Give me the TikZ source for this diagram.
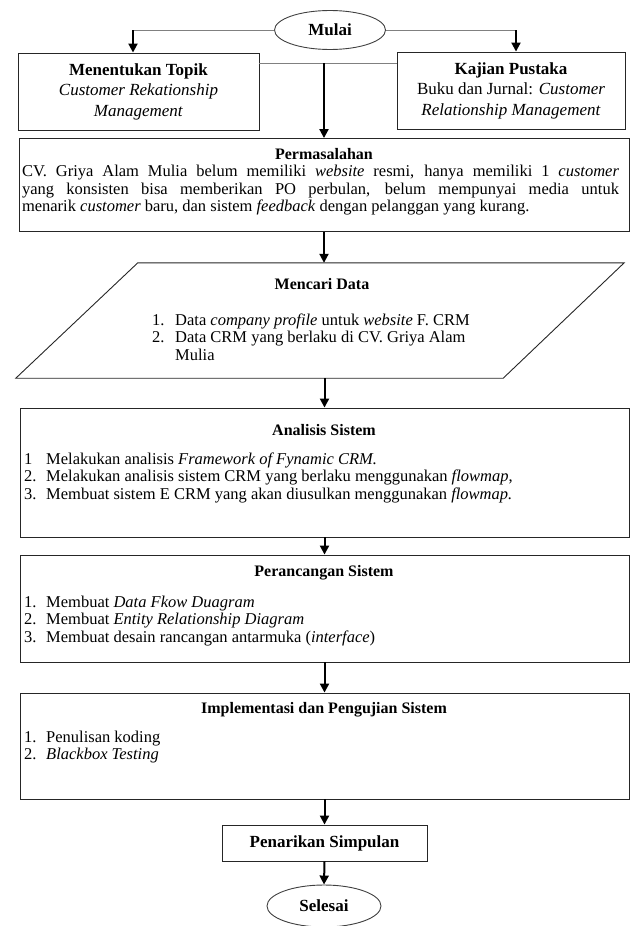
\documentclass[tikz,border=0pt]{standalone}
\usepackage{fontspec}
\setmainfont{Liberation Serif}
\usetikzlibrary{shapes.geometric,arrows.meta,positioning}

\newcommand{\bodyfont}{\fontsize{16.5}{17.5}\selectfont}
\newcommand{\headfont}{\fontsize{17}{20.5}\selectfont}

\begin{document}
\begin{tikzpicture}[x=1pt, y=-1pt, font=\bodyfont,
    box/.style={rectangle, draw=black!85, line width=0.9pt, inner sep=0pt},
    term/.style={ellipse, draw=black!75, line width=0.9pt, inner sep=0pt, font=\headfont\bfseries},
    heading/.style={inner sep=0pt, font=\fontsize{16}{17.5}\selectfont\bfseries},
    items/.style={inner sep=0pt, anchor=north west},
    arr/.style={-{Triangle[length=9pt, width=9pt]}, line width=2pt},
    link/.style={draw=black!50, line width=0.9pt}]
    \useasboundingbox (0,0) rectangle (632,926);

    % Start, topic and literature
    \node[term, minimum width=111pt, minimum height=39pt] (mulai) at (330,30) {Mulai};
    \node[box, minimum width=241pt, minimum height=77pt, align=center, font=\headfont] (topik) at (138.5,91.5)
        {\textbf{Menentukan Topik}\\ \textit{Customer Rekationship}\\ \textit{Management}};
    \node[box, minimum width=228pt, minimum height=77pt, align=center, font=\headfont] (pustaka) at (511,90.5)
        {\textbf{Kajian Pustaka}\\ Buku dan Jurnal: \textit{Customer}\\ \textit{Relationship Management}};

    % Problem statement
    \node[box, minimum width=610pt, minimum height=93pt] (masalah) at (324,185) {};
    \node[heading] (masalahttl) at (324,154) {Permasalahan};
    \node[inner sep=0pt, text width=597pt, align=justify] (masalahtxt) at (320.5,190.5)
        {CV. Griya Alam Mulia belum memiliki \textit{website} resmi, hanya memiliki 1 \textit{customer}\linebreak
         yang konsisten bisa memberikan PO perbulan, belum mempunyai media untuk\linebreak
         menarik \textit{customer} baru, dan sistem \textit{feedback} dengan pelanggan yang kurang.};

    % Data collection (parallelogram drawn on the node's corners)
    \node[rectangle, inner sep=0pt, minimum width=608pt, minimum height=115pt] (cari) at (320,320.5) {};
    \draw[draw=black!85, line width=0.9pt] ([xshift=122pt]cari.north west) -- (cari.north east)
        -- ([xshift=-121pt]cari.south east) -- (cari.south west) -- cycle;
    \node[heading] (carittl) at (322,284) {Mencari Data};
    \node[items] (carilist) at (152,313) {\begin{tabular}{@{}p{23pt}@{}l@{}}
        1. & Data \textit{company profile} untuk \textit{website} F. CRM\\
        2. & Data CRM yang berlaku di CV. Griya Alam\\
           & Mulia
    \end{tabular}};

    % System analysis
    \node[box, minimum width=609pt, minimum height=129pt] (analisis) at (324.5,472.5) {};
    \node[heading] (analisisttl) at (324,430) {Analisis Sistem};
    \node[items] (analisislist) at (24,452) {\begin{tabular}{@{}p{22pt}@{}l@{}}
        1  & Melakukan analisis \textit{Framework of Fynamic CRM.}\\
        2. & Melakukan analisis sistem CRM yang berlaku menggunakan \textit{flowmap},\\
        3. & Membuat sistem E CRM yang akan diusulkan menggunakan \textit{flowmap.}
    \end{tabular}};

    % System design
    \node[box, minimum width=609pt, minimum height=107pt] (rancang) at (324.5,608.5) {};
    \node[heading] (rancangttl) at (324,573) {Perancangan Sistem};
    \node[items] (rancanglist) at (24,595) {\begin{tabular}{@{}p{22pt}@{}l@{}}
        1. & Membuat \textit{Data Fkow Duagram}\\
        2. & Membuat \textit{Entity Relationship Diagram}\\
        3. & Membuat desain rancangan antarmuka (\textit{interface})
    \end{tabular}};

    % Implementation and testing
    \node[box, minimum width=609pt, minimum height=106pt] (uji) at (324.5,746) {};
    \node[heading] (ujittl) at (324,710) {Implementasi dan Pengujian Sistem};
    \node[items] (ujilist) at (24,730) {\begin{tabular}{@{}p{22pt}@{}l@{}}
        1. & Penulisan koding\\
        2. & \textit{Blackbox Testing}
    \end{tabular}};

    % Conclusion and end
    \node[box, minimum width=205pt, minimum height=36pt, font=\headfont\bfseries] (simpulan) at (324.5,843) {Penarikan Simpulan};
    \node[term, minimum width=114pt, minimum height=42pt] (selesai) at (324,906) {Selesai};

    % Arrows
    \coordinate (kiri) at (133,30);
    \coordinate (kanan) at (516,30);
    \coordinate (tengah) at (324,63);
    \draw[link] (mulai.west) -- (kiri);
    \draw[arr] (kiri) -- (kiri |- topik.north);
    \draw[link] (mulai.east) -- (kanan);
    \draw[arr] (kanan) -- (kanan |- pustaka.north);
    \draw[link] (tengah -| topik.east) -- (tengah -| pustaka.west);
    \draw[arr] (tengah) -- (tengah |- masalah.north);
    \draw[arr] (masalah.south) -- (masalah.south |- cari.north);
    \draw[arr] (analisis.north |- cari.south) -- (analisis.north);
    \draw[arr] (analisis.south) -- (rancang.north);
    \draw[arr] (rancang.south) -- (uji.north);
    \draw[arr] (uji.south) -- (simpulan.north);
    \draw[arr] (simpulan.south) -- (selesai.north);
\end{tikzpicture}
\end{document}
